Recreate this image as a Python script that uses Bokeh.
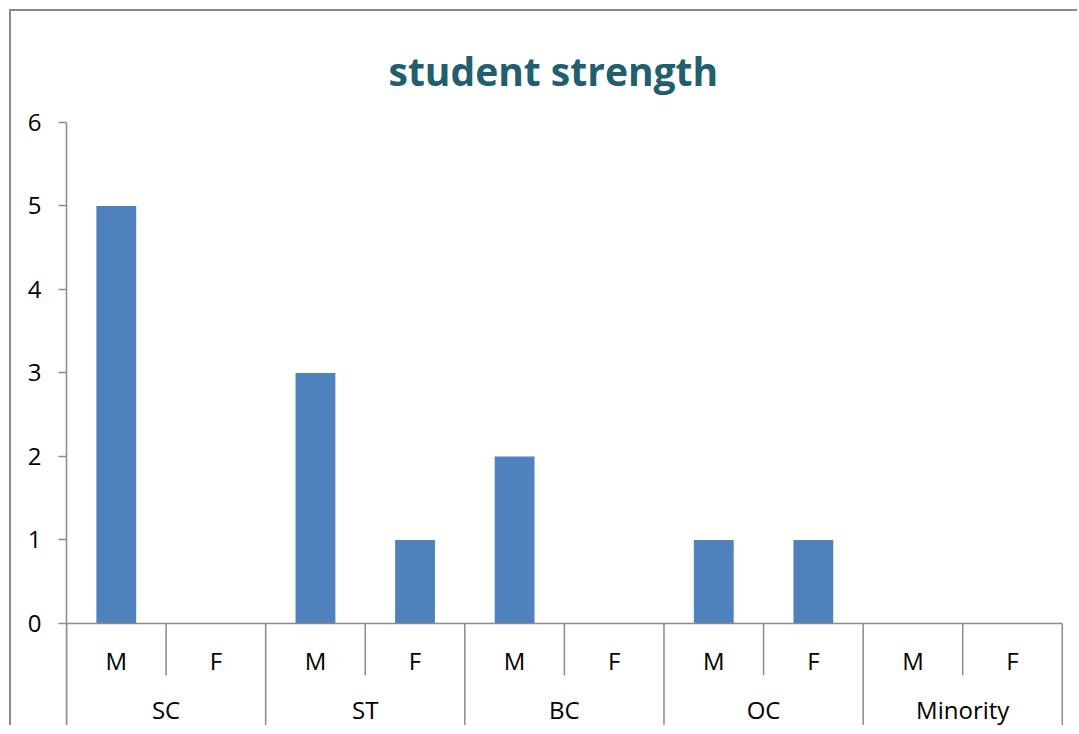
from bokeh.plotting import figure
from bokeh.models import Range1d, FixedTicker
from bokeh.core.properties import value
from bokeh.embed import file_html
from bokeh.resources import INLINE

title_text = "student strength"
groups = ["SC", "ST", "BC", "OC", "Minority"]
genders = ["M", "F"]
male = [5, 3, 2, 1, 0]
female = [0, 1, 0, 1, 0]
y_ticks = [0, 1, 2, 3, 4, 5, 6]

FONT = "Open Sans"
GRAY = "#8a8a8a"
BAR = "#4F81BD"

# slot positions derived from category order
xs, tops, sub_labels = [], [], []
for gi, g in enumerate(groups):
    for ji, s in enumerate(genders):
        xs.append(gi * len(genders) + ji + 0.5)
        tops.append(male[gi] if s == "M" else female[gi])
        sub_labels.append(s)
n_slots = len(xs)
group_x = [gi * len(genders) + len(genders) / 2 for gi in range(len(groups))]

p = figure(width=1068, height=716, output_backend="svg", toolbar_location=None,
           x_range=Range1d(0, n_slots + 0.012), y_range=Range1d(-1.234, 6),
           x_axis_location=None, min_border_left=55, min_border_right=16,
           min_border_top=111, min_border_bottom=1)
p.styles = {"border-left": "2px solid #8a8a8a", "border-top": "2px solid #8a8a8a",
            "margin-left": "9px", "margin-top": "9px"}
p.outline_line_color = None
p.xgrid.visible = False
p.ygrid.visible = False

p.title.text = title_text
p.title.align = "left"
p.title.offset = 322
p.title.text_font = FONT
p.title.text_font_style = "bold"
p.title.text_font_size = "39px"
p.title.text_color = "#215E6E"
p.title.standoff = 52

ya = p.yaxis[0]
ya.ticker = FixedTicker(ticks=y_ticks)
ya.axis_line_color = GRAY
ya.axis_line_width = 1.5
ya.major_tick_line_color = GRAY
ya.major_tick_line_width = 1.5
ya.major_tick_out = 8
ya.major_tick_in = 0
ya.minor_tick_line_color = None
ya.major_label_text_font = FONT
ya.major_label_text_font_size = "24px"
ya.major_label_text_color = "#000000"
ya.major_label_standoff = 17

p.vbar(x=xs, top=tops, width=0.4, bottom=0, fill_color=BAR, line_color=None)

# category axis drawn as a table below zero
p.segment(x0=[0], y0=[0], x1=[n_slots], y1=[0], line_color=GRAY, line_width=1.5)
long_x = [gi * len(genders) for gi in range(len(groups) + 1)]
short_x = [gi * len(genders) + 1 for gi in range(len(groups))]
p.segment(x0=long_x, y0=[0] * len(long_x), x1=long_x, y1=[-1.22] * len(long_x),
          line_color=GRAY, line_width=1.5)
p.segment(x0=short_x, y0=[0] * len(short_x), x1=short_x, y1=[-0.62] * len(short_x),
          line_color=GRAY, line_width=1.5)

p.text(x=xs, y=[-0.44] * n_slots, text=sub_labels, text_align="center",
       text_baseline="middle", text_font=value(FONT), text_font_size="24px",
       text_color="#000000")
p.text(x=group_x, y=[-1.03] * len(groups), text=groups, text_align="center",
       text_baseline="middle", text_font=value(FONT), text_font_size="24px",
       text_color="#000000")

open("out.html", "w").write(file_html(p, INLINE))
